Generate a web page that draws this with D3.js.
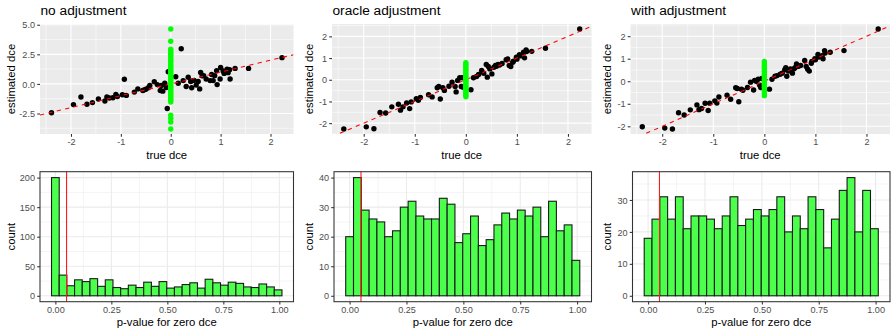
<!DOCTYPE html>
<html>
<head>
<meta charset="utf-8">
<script src="https://cdn.jsdelivr.net/npm/d3@7"></script>
<style>
  html, body { margin: 0; padding: 0; background: #fff; }
  svg { display: block; font-family: "Liberation Sans", Arial, Helvetica, sans-serif; }
</style>
</head>
<body>
<svg id="chart" width="891" height="334"></svg>
<script>
// True direct causal effects (shared by the three estimators)
const trueDce = [-2.39, -1.95, -1.80, -1.68, -1.57, -1.45, -1.32, -1.28, -1.23, -1.16,
  -1.10, -1.07, -0.97, -0.93, -0.89, -0.73, -0.66, -0.56, -0.53, -0.50,
  -0.45, -0.42, -0.33, -0.27, -0.21, -0.19, -0.16, -0.12, -0.09, -0.07,
  -0.05, 0.10, 0.15, 0.21, 0.25, 0.31, 0.35, 0.40, 0.42, 0.44,
  0.47, 0.51, 0.55, 0.58, 0.60, 0.63, 0.66, 0.71, 0.79, 0.82,
  0.85, 0.88, 0.92, 0.93, 0.99, 1.00, 1.05, 1.07, 1.13, 1.15,
  1.18, 1.19, 1.29, 1.56, 2.23];

const estNoAdj = [-2.44, -1.75, -1.11, -1.72, -1.58, -1.28, -1.44, -1.11, -1.19, -1.17,
  -0.89, -1.06, -0.92, 0.39, -0.97, -0.69, -0.42, -0.56, -0.50, -0.45,
  -0.33, -0.14, 0.19, -0.06, -0.56, -0.14, -0.61, 0.05, -0.30, -2.08,
  1.03, 0.61, 0.06, 2.97, 0.28, -0.22, 0.56, 0.20, -0.33, 0.28,
  0.30, -0.10, 0.20, -0.42, 0.97, 0.69, 0.70, 0.42, 0.28, 0.80,
  0.28, 0.70, 1.11, -0.06, 0.42, 1.39, 1.10, 0.89, 1.25, 0.95,
  1.20, 0.42, 1.31, 1.31, 2.22];

const estOracle = [-2.27, -2.17, -2.26, -1.51, -1.53, -1.25, -1.13, -1.40, -1.25, -1.07,
  -1.33, -1.02, -0.87, -0.95, -0.82, -0.69, -0.79, -0.37, -0.31, -0.89,
  -0.37, -0.49, -0.30, -0.11, -0.31, -0.56, -0.03, 0.09, -0.31, 0.09,
  -0.34, -0.46, 0.09, 0.15, 0.24, 0.43, 0.30, 0.70, 0.12, 0.61,
  0.50, 0.27, 0.58, 0.66, 0.62, 0.70, 0.68, 0.75, 0.92, 0.96,
  0.66, 0.61, 0.81, 0.85, 1.04, 0.95, 1.16, 1.10, 1.27, 1.01,
  1.37, 1.30, 1.31, 1.45, 2.34];

const estWithAdj = [-2.02, -2.08, -2.12, -1.40, -1.50, -1.27, -1.05, -1.26, -1.21, -0.98,
  -1.30, -0.98, -0.87, -0.97, -0.70, -0.62, -0.80, -0.29, -0.32, -0.91,
  -0.35, -0.40, -0.28, -0.04, -0.39, 0.04, 0.00, 0.09, -0.18, -0.28,
  0.12, -0.35, 0.09, 0.22, 0.25, 0.31, 0.36, 0.51, 0.60, 0.22,
  0.45, 0.55, 0.36, 0.55, 0.60, 0.77, 0.66, 0.70, 0.92, 0.66,
  0.53, 0.45, 0.80, 0.88, 1.00, 0.95, 1.19, 1.08, 1.14, 1.00,
  1.36, 1.25, 1.29, 1.36, 2.32];

// Estimates for edges whose true effect is zero
const zeroNoAdj = [4.64, 3.61, 2.93, 2.78, 2.62, 2.51, 2.37, 2.22, 2.05, 1.93,
  1.78, 1.61, 1.49, 1.32, 1.18, 1.04, 0.91, 0.77, 0.62, 0.51,
  0.38, 0.24, 0.11, -0.03, -0.17, -0.29, -0.42, -0.58, -0.71, -0.83,
  -0.97, -1.12, -1.26, -1.38, -1.53, -2.64, -2.91, -3.22, -3.81];
const zeroOracle = [0.79, 0.71, 0.64, 0.55, 0.47, 0.41, 0.33, 0.26, 0.18, 0.12,
  0.05, -0.02, -0.09, -0.15, -0.23, -0.30, -0.36, -0.44, -0.51, -0.57,
  -0.64, -0.71, -0.78];
const zeroWithAdj = [0.88, 0.81, 0.73, 0.66, 0.58, 0.51, 0.44, 0.37, 0.30, 0.22,
  0.15, 0.09, 0.02, -0.05, -0.13, -0.20, -0.27, -0.34, -0.41, -0.48,
  -0.56, -0.64];

// Histogram counts of p-values (30 bins)
const countsNoAdj = [200, 35, 17, 27, 24, 29, 16, 27, 14, 12, 18, 14, 23, 16, 24,
  13, 15, 19, 22, 13, 28, 22, 18, 23, 21, 15, 14, 20, 15, 10];
const countsOracle = [20, 40, 29, 26, 25, 20, 22, 30, 32, 27, 26, 26, 33, 31, 18,
  21, 27, 17, 19, 24, 28, 26, 29, 27, 30, 20, 32, 22, 24, 12];
const countsWithAdj = [18, 24, 31, 24, 31, 21, 25, 25, 24, 21, 25, 31, 22, 24, 27,
  25, 27, 31, 20, 25, 21, 31, 27, 15, 24, 33, 37, 20, 33, 21];
const binWidth = 0.0343;
const alphaLevel = 0.05;

const titles = ["no adjustment", "oracle adjustment", "with adjustment"];
const dceTicks = [-2, -1, 0, 1, 2];
const noAdjYTicks = [-2.5, 0, 2.5, 5];
const pTicks = [0, 0.25, 0.5, 0.75, 1];
const countTicksNoAdj = [0, 50, 100, 150, 200];
const countTicksOracle = [0, 10, 20, 30, 40];
const countTicksWithAdj = [0, 10, 20, 30];

const svg = d3.select("#chart");

const TICK_FONT = 9.1, AXIS_FONT = 11.3, TITLE_FONT = 13.7;
const TICK_COL = "#4d4d4d", TICK_LINE = "#333333";

function expand([a, b]) { const d = (b - a) * 0.05; return [a - d, b + d]; }

function minorBreaks(ticks, domain) {
  const step = ticks[1] - ticks[0];
  const out = [];
  const all = [ticks[0] - step, ...ticks, ticks[ticks.length - 1] + step];
  for (let i = 0; i < all.length - 1; i++) {
    const m = (all[i] + all[i + 1]) / 2;
    if (m >= domain[0] && m <= domain[1]) out.push(m);
  }
  return out;
}

function drawGrid(g, x, y, xt, yt, box, gridCol) {
  const { left, right, top, bottom } = box;
  const xMinor = minorBreaks(xt, x.domain());
  const yMinor = minorBreaks(yt, y.domain());
  g.selectAll(null).data(xMinor).join("line")
    .attr("x1", d => x(d)).attr("x2", d => x(d)).attr("y1", top).attr("y2", bottom)
    .attr("stroke", gridCol).attr("stroke-width", 0.55);
  g.selectAll(null).data(yMinor).join("line")
    .attr("y1", d => y(d)).attr("y2", d => y(d)).attr("x1", left).attr("x2", right)
    .attr("stroke", gridCol).attr("stroke-width", 0.55);
  g.selectAll(null).data(xt).join("line")
    .attr("x1", d => x(d)).attr("x2", d => x(d)).attr("y1", top).attr("y2", bottom)
    .attr("stroke", gridCol).attr("stroke-width", 1.1);
  g.selectAll(null).data(yt).join("line")
    .attr("y1", d => y(d)).attr("y2", d => y(d)).attr("x1", left).attr("x2", right)
    .attr("stroke", gridCol).attr("stroke-width", 1.1);
}

function drawTicksAndTitles(g, x, y, xt, yt, xfmt, yfmt, box, xTitle, yTitle, yTitleX) {
  const { left, right, top, bottom } = box;
  const xAxis = d3.axisBottom(x).tickValues(xt).tickFormat(xfmt).tickSize(2.8).tickPadding(2.2);
  const yAxis = d3.axisLeft(y).tickValues(yt).tickFormat(yfmt).tickSize(2.8).tickPadding(2.2);
  const xa = g.append("g").attr("transform", `translate(0,${bottom})`).call(xAxis);
  const ya = g.append("g").attr("transform", `translate(${left},0)`).call(yAxis);
  [xa, ya].forEach(a => {
    a.select(".domain").remove();
    a.selectAll(".tick line").attr("stroke", TICK_LINE).attr("stroke-width", 1.07);
    a.selectAll(".tick text").attr("fill", TICK_COL).attr("font-size", TICK_FONT)
      .attr("font-family", "Liberation Sans, Arial, sans-serif");
  });
  xa.selectAll(".tick text").attr("dy", null).attr("y", 11);
  ya.selectAll(".tick text").attr("dy", "0.34em");
  g.append("text").attr("x", (left + right) / 2).attr("y", bottom + 24.5)
    .attr("text-anchor", "middle").attr("font-size", AXIS_FONT).attr("fill", "#000").text(xTitle);
  g.append("text")
    .attr("transform", `translate(${yTitleX},${(top + bottom) / 2}) rotate(-90)`)
    .attr("text-anchor", "middle").attr("font-size", AXIS_FONT).attr("fill", "#000").text(yTitle);
}

const hyphen = s => s.replace("\u2212", "-");

// ---------- scatter panels: estimated vs true direct causal effect ----------
const scatterSets = [
  { est: estNoAdj, zero: zeroNoAdj, yt: noAdjYTicks, yfmt: d3.format(".1f"), left: 40, right: 293.5, yTitleX: 15 },
  { est: estOracle, zero: zeroOracle, yt: dceTicks, yfmt: d3.format("d"), left: 332, right: 591.5, yTitleX: 313 },
  { est: estWithAdj, zero: zeroWithAdj, yt: dceTicks, yfmt: d3.format("d"), left: 630.5, right: 890, yTitleX: 610.5 }
];

scatterSets.forEach((s, k) => {
  const box = { left: s.left, right: s.right, top: 24, bottom: 134 };
  const g = svg.append("g");
  const xDom = expand(d3.extent([...trueDce, 0]));
  const yDom = expand(d3.extent([...s.est, ...s.zero]));
  const x = d3.scaleLinear().domain(xDom).range([box.left, box.right]);
  const y = d3.scaleLinear().domain(yDom).range([box.bottom, box.top]);

  g.append("rect").attr("x", box.left).attr("y", box.top)
    .attr("width", box.right - box.left).attr("height", box.bottom - box.top)
    .attr("fill", "#ebebeb");
  drawGrid(g, x, y, dceTicks, s.yt, box, "#ffffff");

  const clip = "clip-s" + k;
  g.append("clipPath").attr("id", clip).append("rect")
    .attr("x", box.left).attr("y", box.top)
    .attr("width", box.right - box.left).attr("height", box.bottom - box.top);
  const pg = g.append("g").attr("clip-path", `url(#${clip})`);

  pg.selectAll(null).data(trueDce).join("circle")
    .attr("cx", d => x(d)).attr("cy", (d, i) => y(s.est[i])).attr("r", 2.7).attr("fill", "#000");

  // identity reference line y = x
  pg.append("line")
    .attr("x1", x(xDom[0])).attr("y1", y(xDom[0]))
    .attr("x2", x(xDom[1])).attr("y2", y(xDom[1]))
    .attr("stroke", "#ff0000").attr("stroke-width", 1.07).attr("stroke-dasharray", "4.3,4.3");

  pg.selectAll(null).data(s.zero).join("circle")
    .attr("cx", x(0)).attr("cy", d => y(d)).attr("r", 2.7).attr("fill", "#00ff00");

  drawTicksAndTitles(g, x, y, dceTicks, s.yt, d => hyphen(String(d)),
    d => hyphen(s.yfmt(d)), box, "true dce", "estimated dce", s.yTitleX);

  g.append("text").attr("x", box.left + 0.5).attr("y", 14.7)
    .attr("font-size", TITLE_FONT).attr("fill", "#000").text(titles[k]);
});

// ---------- histogram panels: p-values for zero effects ----------
const histSets = [
  { counts: countsNoAdj, yt: countTicksNoAdj, left: 40, right: 293.5, yTitleX: 15 },
  { counts: countsOracle, yt: countTicksOracle, left: 334, right: 591.5, yTitleX: 313 },
  { counts: countsWithAdj, yt: countTicksWithAdj, left: 632.5, right: 890, yTitleX: 610.5 }
];

histSets.forEach((h, k) => {
  const box = { left: h.left, right: h.right, top: 171.7, bottom: 301.7 };
  const g = svg.append("g");
  const n = h.counts.length;
  const xDom = expand([-binWidth / 2, (n - 0.5) * binWidth]);
  const yDom = expand([0, d3.max(h.counts)]);
  const x = d3.scaleLinear().domain(xDom).range([box.left, box.right]);
  const y = d3.scaleLinear().domain(yDom).range([box.bottom, box.top]);

  g.append("rect").attr("x", box.left).attr("y", box.top)
    .attr("width", box.right - box.left).attr("height", box.bottom - box.top)
    .attr("fill", "#ffffff");
  drawGrid(g, x, y, pTicks, h.yt, box, "#ebebeb");

  g.selectAll(null).data(h.counts).join("rect")
    .attr("x", (d, i) => x((i - 0.5) * binWidth))
    .attr("width", (d, i) => x((i + 0.5) * binWidth) - x((i - 0.5) * binWidth))
    .attr("y", d => y(d))
    .attr("height", d => y(0) - y(d))
    .attr("fill", "rgb(77,255,77)")
    .attr("stroke", "#1a1a1a").attr("stroke-width", 1.1);

  // significance threshold
  g.append("line")
    .attr("x1", x(alphaLevel)).attr("x2", x(alphaLevel))
    .attr("y1", box.top).attr("y2", box.bottom)
    .attr("stroke", "#ff1a1a").attr("stroke-width", 1.1);

  g.append("rect").attr("x", box.left).attr("y", box.top)
    .attr("width", box.right - box.left).attr("height", box.bottom - box.top)
    .attr("fill", "none").attr("stroke", "#333333").attr("stroke-width", 1.07);

  drawTicksAndTitles(g, x, y, pTicks, h.yt, d3.format(".2f"), d3.format("d"),
    box, "p-value for zero dce", "count", h.yTitleX);
});
</script>
</body>
</html>
